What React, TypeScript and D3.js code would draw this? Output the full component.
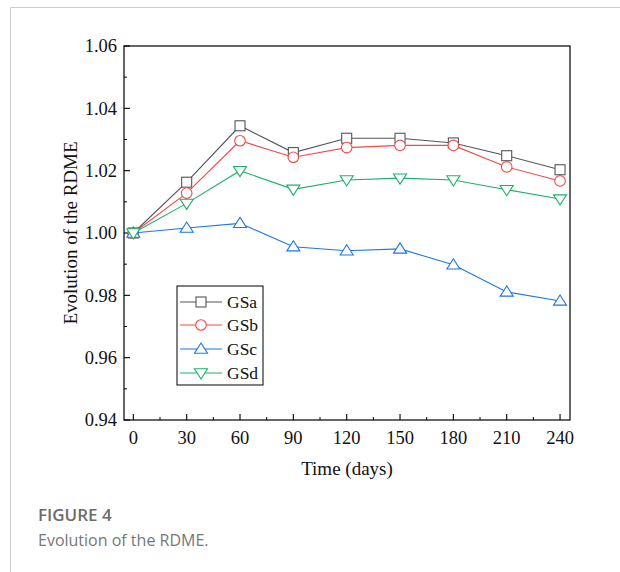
import React from "react";
import * as d3 from "d3";

const days = [0, 30, 60, 90, 120, 150, 180, 210, 240];
const gsa = [1.0, 1.0163, 1.0344, 1.0258, 1.0304, 1.0304, 1.0289, 1.0248, 1.0203];
const gsb = [1.0, 1.0128, 1.0296, 1.0243, 1.0274, 1.0281, 1.0281, 1.0212, 1.0167];
const gsc = [1.0, 1.0016, 1.0031, 0.9956, 0.9943, 0.9949, 0.9898, 0.9811, 0.9782];
const gsd = [1.0, 1.0095, 1.02, 1.014, 1.017, 1.0176, 1.017, 1.0139, 1.0109];
const seriesNames = ["GSa", "GSb", "GSc", "GSd"];
const yTicks = [0.94, 0.96, 0.98, 1.0, 1.02, 1.04, 1.06];

const seriesValues = [gsa, gsb, gsc, gsd];
const colors = ["#555555", "#f24a4a", "#1f77e0", "#1eb06a"];
const markers = ["square", "circle", "up", "down"];

const W = 620;
const H = 572;
const left = 124;
const right = 570;
const top = 46;
const bottom = 420;

const serif = "'Liberation Serif', 'Times New Roman', serif";
const sans = "'Open Sans', 'Noto Sans', sans-serif";

function Marker({ kind, x, y, color }: { kind: string; x: number; y: number; color: string }) {
  const common = { fill: "white", stroke: color, strokeWidth: 1.1 };
  if (kind === "square") return <rect x={x - 5} y={y - 5} width={10} height={10} {...common} />;
  if (kind === "circle") return <circle cx={x} cy={y} r={5.3} {...common} />;
  if (kind === "up")
    return <path d={`M${x},${y - 6}L${x + 6.5},${y + 4.2}L${x - 6.5},${y + 4.2}Z`} {...common} />;
  return <path d={`M${x},${y + 6}L${x + 6.5},${y - 4.2}L${x - 6.5},${y - 4.2}Z`} {...common} />;
}

export default function App() {
  const x = d3.scaleLinear().domain([-5.25, 245.6]).range([left, right]);
  const y = d3.scaleLinear().domain([0.94, 1.06]).range([bottom, top]);
  const line = d3
    .line<number>()
    .x((_, i) => x(days[i]))
    .y((v) => y(v));

  const xMinor = d3.range(15, 240, 30);
  const yMinor = d3.range(0.95, 1.06, 0.02);

  const legX = 177;
  const legY = 286;
  const legRows = [302, 325, 349, 373];

  return (
    <svg
      width={W}
      height={H}
      style={{ position: "absolute", left: 0, top: 0, background: "white" }}
    >
      {/* card frame */}
      <line x1={10.5} y1={7.5} x2={W} y2={7.5} stroke="#cccccc" strokeWidth={1} />
      <line x1={10.5} y1={7.5} x2={10.5} y2={H} stroke="#cccccc" strokeWidth={1} />

      {/* plot frame */}
      <rect x={left} y={top} width={right - left} height={bottom - top} fill="none" stroke="#000" strokeWidth={1.2} />

      {/* y ticks */}
      {yTicks.map((t) => (
        <g key={"y" + t}>
          <line x1={left} x2={left + 6} y1={y(t)} y2={y(t)} stroke="#000" strokeWidth={1.1} />
          <text
            x={left - 7}
            y={y(t)}
            dy="0.35em"
            textAnchor="end"
            fontFamily={serif}
            fontSize={18.5}
            fill="#111"
          >
            {d3.format(".2f")(t)}
          </text>
        </g>
      ))}
      {yMinor.map((t) => (
        <line key={"ym" + t} x1={left} x2={left + 3} y1={y(t)} y2={y(t)} stroke="#000" strokeWidth={1} />
      ))}

      {/* x ticks */}
      {days.map((d) => (
        <g key={"x" + d}>
          <line x1={x(d)} x2={x(d)} y1={bottom} y2={bottom - 6} stroke="#000" strokeWidth={1.1} />
          <text
            x={x(d)}
            y={bottom + 18}
            dy="0.35em"
            textAnchor="middle"
            fontFamily={serif}
            fontSize={18.5}
            fill="#111"
          >
            {d}
          </text>
        </g>
      ))}
      {xMinor.map((d) => (
        <line key={"xm" + d} x1={x(d)} x2={x(d)} y1={bottom} y2={bottom - 3} stroke="#000" strokeWidth={1} />
      ))}

      {/* axis titles */}
      <text
        x={(left + right) / 2}
        y={468}
        dy="0.35em"
        textAnchor="middle"
        fontFamily={serif}
        fontSize={19}
        fill="#111"
      >
        Time (days)
      </text>
      <text
        transform={`translate(70,${(top + bottom) / 2}) rotate(-90)`}
        textAnchor="middle"
        dy="0.35em"
        fontFamily={serif}
        fontSize={19}
        fill="#111"
      >
        Evolution of the RDME
      </text>

      {/* series */}
      {seriesValues.map((vals, si) => (
        <g key={seriesNames[si]}>
          <path d={line(vals) || ""} fill="none" stroke={colors[si]} strokeWidth={1.1} />
          {vals.map((v, i) => (
            <Marker key={i} kind={markers[si]} x={x(days[i])} y={y(v)} color={colors[si]} />
          ))}
        </g>
      ))}

      {/* legend */}
      <rect x={legX} y={legY} width={86} height={99} fill="white" stroke="#000" strokeWidth={1} />
      {seriesNames.map((n, i) => (
        <g key={"leg" + n}>
          <line x1={180} x2={222} y1={legRows[i]} y2={legRows[i]} stroke={colors[i]} strokeWidth={1.1} />
          <Marker kind={markers[i]} x={201} y={legRows[i]} color={colors[i]} />
          <text x={227} y={legRows[i]} dy="0.35em" fontFamily={serif} fontSize={17.5} fill="#111">
            {n}
          </text>
        </g>
      ))}

      {/* caption */}
      <text x={38} y={521} fontFamily={sans} fontSize={17} fontWeight={600} fill="#6b6b6b">
        FIGURE 4
      </text>
      <text x={38} y={546} fontFamily={sans} fontSize={16} fill="#777777">
        Evolution of the RDME.
      </text>
    </svg>
  );
}
